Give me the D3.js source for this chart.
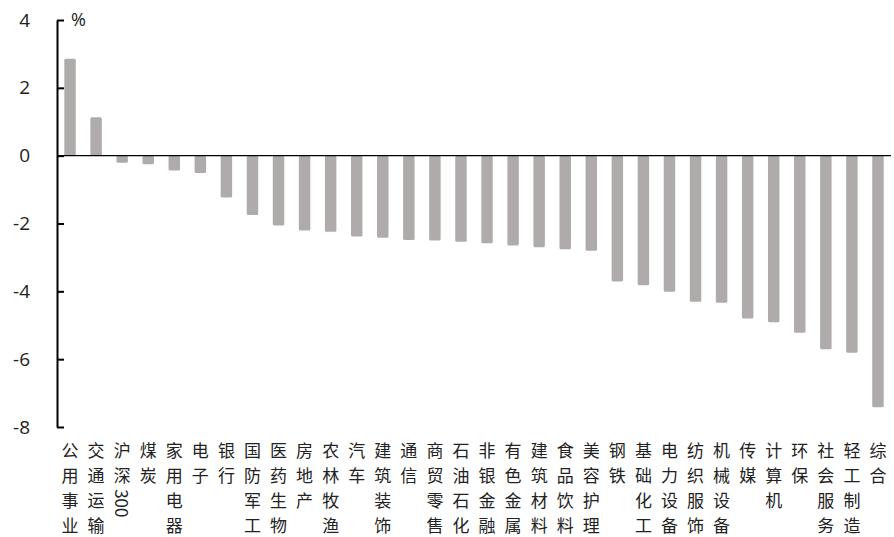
<!DOCTYPE html>
<html lang="zh">
<head>
<meta charset="utf-8">
<title>行业涨跌幅</title>
<script src="https://d3js.org/d3.v7.min.js"></script>
<style>
  body { margin: 0; background: #fff; }
  .tick-label { font-family: "Open Sans", "Liberation Sans", sans-serif; font-size: 19px; fill: #222; }
  .cat { font-family: "Noto Sans CJK SC", sans-serif; font-size: 17px; fill: #222; }
</style>
</head>
<body>
<div id="chart"></div>
<script>
// data
const categories = ["公用事业","交通运输","沪深300","煤炭","家用电器","电子","银行","国防军工","医药生物","房地产",
  "农林牧渔","汽车","建筑装饰","通信","商贸零售","石油石化","非银金融","有色金属","建筑材料","食品饮料",
  "美容护理","钢铁","基础化工","电力设备","纺织服饰","机械设备","传媒","计算机","环保","社会服务","轻工制造","综合"];
const values = [2.86, 1.13, -0.21, -0.25, -0.44, -0.51, -1.23, -1.75, -2.06, -2.21,
  -2.24, -2.38, -2.42, -2.49, -2.50, -2.54, -2.58, -2.65, -2.70, -2.76,
  -2.80, -3.71, -3.82, -4.01, -4.31, -4.34, -4.80, -4.91, -5.22, -5.71, -5.81, -7.42];
const yTicks = [4, 2, 0, -2, -4, -6, -8];
const unit = "%";

const width = 894, height = 537;
const plotLeft = 57, plotRight = 891, plotTop = 20, plotBottom = 427;

const svg = d3.select("#chart").append("svg")
  .attr("width", width).attr("height", height);

const y = d3.scaleLinear().domain([-8, 4]).range([plotBottom, plotTop]);
const x = d3.scaleBand().domain(categories).range([plotLeft, plotRight]).paddingInner(0.56).paddingOuter(0.28);

// bars
svg.append("g").selectAll("rect")
  .data(values)
  .enter().append("rect")
    .attr("x", (d, i) => x(categories[i]))
    .attr("y", d => y(Math.max(0, d)))
    .attr("width", x.bandwidth())
    .attr("height", d => Math.abs(y(d) - y(0)))
    .attr("rx", 1.5)
    .attr("fill", "#afabab");

// zero line
svg.append("line")
  .attr("x1", plotLeft).attr("x2", plotRight)
  .attr("y1", y(0)).attr("y2", y(0))
  .attr("stroke", "#000").attr("stroke-width", 1.2);

// y axis, ticks pointing inward
const yAxis = svg.append("g")
  .attr("transform", `translate(${plotLeft},0)`)
  .call(d3.axisRight(y).tickValues(yTicks).tickSize(7).tickSizeOuter(0).tickFormat(""));
yAxis.select(".domain").attr("stroke", "#000").attr("stroke-width", 2);
yAxis.selectAll(".tick line").attr("stroke", "#000").attr("stroke-width", 2);

svg.append("g").selectAll("text")
  .data(yTicks)
  .enter().append("text")
    .attr("class", "tick-label")
    .attr("x", 30)
    .attr("y", d => y(d))
    .attr("dy", "0.35em")
    .attr("text-anchor", "end")
    .text(d => d);

svg.append("text")
  .attr("class", "tick-label")
  .attr("x", 71).attr("y", plotTop)
  .attr("dy", "0.35em")
  .style("font-size", "18px")
  .text(unit);

// vertical category labels: one glyph per row, digit runs rotated
const rowTop = 449, rowStep = 25;
categories.forEach(name => {
  const cx = x(name) + x.bandwidth() / 2;
  const tokens = name.match(/\d+|./g);
  let row = 0;
  tokens.forEach(t => {
    if (/\d/.test(t)) {
      const cy = rowTop + row * rowStep - rowStep / 2 + t.length * 5.6;
      svg.append("text")
        .attr("class", "cat")
        .attr("transform", `translate(${cx},${cy}) rotate(90)`)
        .attr("text-anchor", "middle")
        .attr("dominant-baseline", "central")
        .text(t);
      row += 1.4;
    } else {
      svg.append("text")
        .attr("class", "cat")
        .attr("x", cx)
        .attr("y", rowTop + row * rowStep)
        .attr("text-anchor", "middle")
        .attr("dominant-baseline", "central")
        .text(t);
      row += 1;
    }
  });
});
</script>
</body>
</html>
